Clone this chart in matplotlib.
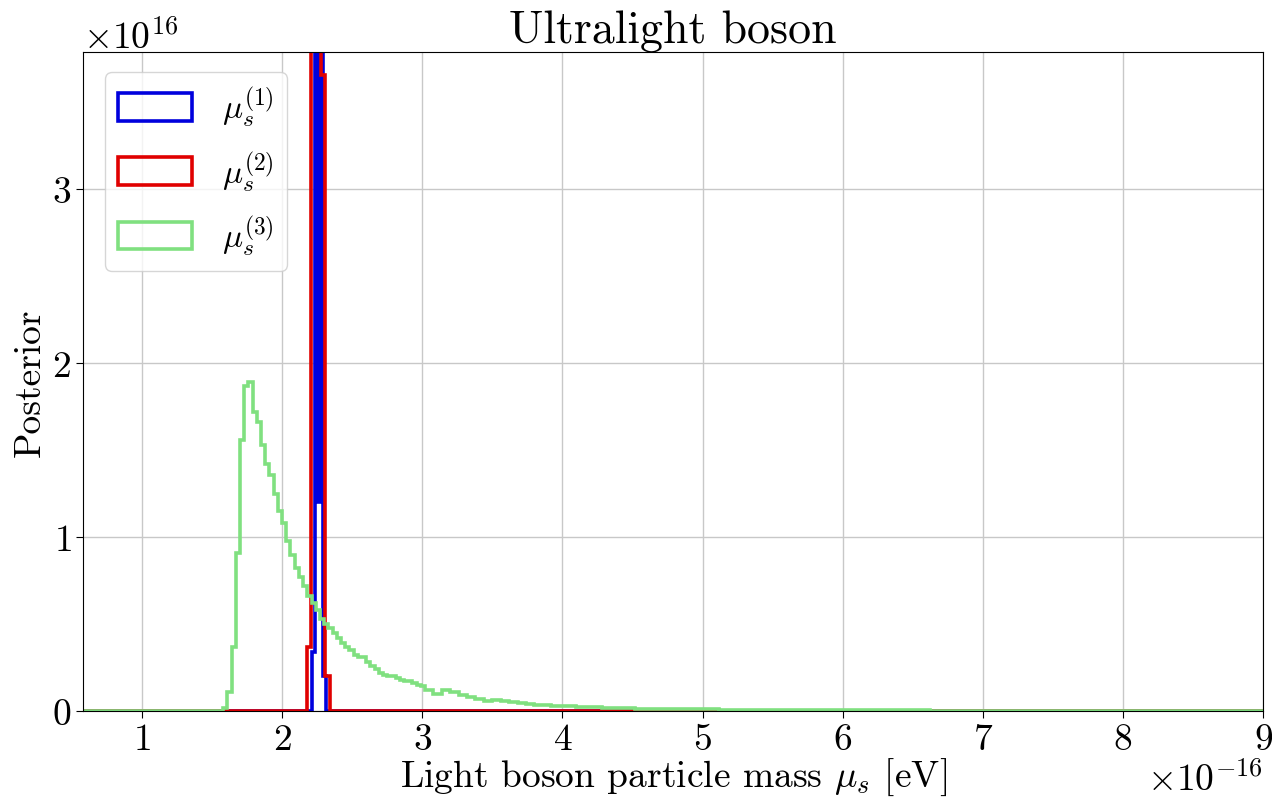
import numpy as np
import matplotlib
matplotlib.use("Agg")
import matplotlib.pyplot as plt

plt.rcParams['font.family'] = 'serif'
plt.rcParams['font.serif'] = ['cmr10', 'DejaVu Serif']
plt.rcParams['mathtext.fontset'] = 'cm'
plt.rcParams['axes.unicode_minus'] = False
plt.rcParams['axes.formatter.use_mathtext'] = True

SCALE_X = 1e-16
SCALE_Y = 1e16

# --- data (x in units of 1e-16 eV, heights in units of 1e16) ---
blue_edges = [0.58, 2.2117, 2.2331, 2.2473, 2.2723, 2.2937, 2.3115, 9.0]
blue_vals = [0.0, 0.34, 10.0, 1.2, 10.0, 0.2, 0.0]

red_edges = [0.58, 2.1761, 2.2081, 2.2794, 2.3044, 2.3400, 9.0]
red_vals = [0.0, 0.37, 10.0, 3.66, 0.2, 0.0]

green_fine_start = 1.58
green_fine_width = 0.03
green_fine_vals = [0.02, 0.11, 0.37, 0.91, 1.56, 1.87, 1.89, 1.72, 1.66, 1.53,
                   1.42, 1.36, 1.25, 1.15, 1.08, 0.98, 0.90, 0.82, 0.77, 0.72,
                   0.66, 0.62, 0.58, 0.53, 0.50, 0.48, 0.45, 0.42, 0.39, 0.37,
                   0.35, 0.32, 0.31, 0.31, 0.28, 0.26, 0.24, 0.22, 0.21, 0.20,
                   0.20, 0.19, 0.18, 0.175, 0.17, 0.16, 0.15, 0.145]
green_mid_width = 0.06
green_mid_vals = [0.12, 0.10, 0.12, 0.11, 0.09, 0.08, 0.07, 0.055, 0.065, 0.055,
                  0.05, 0.045, 0.04, 0.035, 0.033, 0.03, 0.028, 0.026, 0.025, 0.023,
                  0.021, 0.02, 0.018, 0.017, 0.016]
green_tail_width = 0.3
green_tail_vals = [0.013, 0.010, 0.008, 0.006, 0.005, 0.004, 0.003, 0.0025,
                   0.002, 0.0015, 0.0012, 0.001, 0.0008, 0.0006, 0.0005]

labels = [r'$\mu_s^{(1)}$', r'$\mu_s^{(2)}$', r'$\mu_s^{(3)}$']
colors = ['#0000dd', '#e00000', '#80e080']

# build green edges
g_edges = [0.58]
e = green_fine_start
g_edges.append(e)
for _ in green_fine_vals:
    e += green_fine_width
    g_edges.append(e)
for _ in green_mid_vals:
    e += green_mid_width
    g_edges.append(e)
for _ in green_tail_vals:
    e += green_tail_width
    g_edges.append(e)
green_edges = g_edges
green_vals = [0.0] + green_fine_vals + green_mid_vals + green_tail_vals

fig = plt.figure(figsize=(12.72, 8.03), dpi=100)
ax = fig.add_axes([0.0653, 0.1133, 0.9277, 0.8207])

for edges, vals, col, lab in [(blue_edges, blue_vals, colors[0], labels[0]),
                              (red_edges, red_vals, colors[1], labels[1]),
                              (green_edges, green_vals, colors[2], labels[2])]:
    edges = np.array(edges) * SCALE_X
    vals = np.array(vals) * SCALE_Y
    ax.hist(edges[:-1], bins=edges, weights=vals, histtype='step',
            color=col, lw=2.6, label=lab)

ax.set_xlim(0.58e-16, 9.0e-16)
ax.set_ylim(0, 3.79e16)
ax.set_xticks(np.arange(1, 10) * 1e-16)
ax.set_yticks(np.arange(0, 4) * 1e16)
ax.grid(True, color='#c8c8c8', lw=1.0)
ax.set_axisbelow(True)
ax.tick_params(labelsize=27, length=5)
ax.xaxis.get_offset_text().set_fontsize(27)
ax.yaxis.get_offset_text().set_fontsize(27)

ax.set_title('Ultralight boson', fontsize=33, pad=0)
ax.set_xlabel(r'Light boson particle mass $\mu_s$ [eV]', fontsize=27, labelpad=0)
ax.set_ylabel('Posterior', fontsize=27, labelpad=4)

leg = ax.legend(loc='upper left', bbox_to_anchor=(0.0186, 0.9697),
                borderaxespad=0, fontsize=24, handlelength=2.2,
                handleheight=0.9, handletextpad=0.9, labelspacing=0.6,
                framealpha=0.8)

fig.savefig('out.png', dpi=100)
